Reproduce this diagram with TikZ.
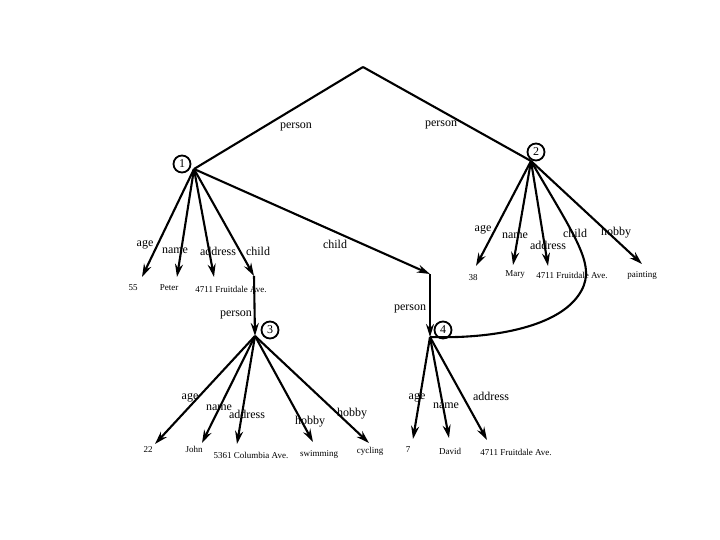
\documentclass[tikz,border=0pt]{standalone}
\usepackage{fontspec}
\setmainfont{Liberation Serif}
\usetikzlibrary{arrows.meta}
\begin{document}
\begin{tikzpicture}[x=1pt,y=-1pt,
  edge/.style={line width=2.1pt,-{Stealth[length=13pt,width=8pt]}},
  plain/.style={line width=2.1pt},
  lab/.style={font=\fontsize{12}{13}\selectfont, inner sep=0pt},
  val/.style={font=\fontsize{9}{10}\selectfont, inner sep=0pt},
  num/.style={draw,circle,line width=1.8pt,inner sep=0pt,minimum size=17pt,font=\fontsize{12}{13}\selectfont}]
\useasboundingbox[fill=white] (0,0) rectangle (720,540);
% hubs
\coordinate (root) at (363,67);
\coordinate (h1) at (194,169);
\coordinate (h2) at (531,161);
\coordinate (c1) at (254,276);
\coordinate (c2) at (430,274);
\coordinate (h3) at (255,336);
\coordinate (h4) at (430,337);
% numbered circles
\node[num] (n1) at (182,164) {1};
\node[num] (n2) at (536,152) {2};
\node[num] (n3) at (270,330) {3};
\node[num] (n4) at (443,330) {4};
% top
\draw[plain] (root) -- (h1);
\draw[plain] (root) -- (h2);
\node[lab] (lp1) at (296,127) {person};
\node[lab] (lp2) at (441,125) {person};
% hub 1
\coordinate (e1a) at (142,277);
\coordinate (e1b) at (177,277);
\coordinate (e1c) at (214,277);
\draw[edge] (h1) -- (e1a);
\draw[edge] (h1) -- (e1b);
\draw[edge] (h1) -- (e1c);
\draw[edge] (h1) -- (c1);
\draw[edge] (h1) -- (c2);
\node[lab] (l1a) at (145,245) {age};
\node[lab] (l1b) at (175,251) {name};
\node[lab] (l1c) at (218,251) {address};
\node[lab] (l1d) at (258,251) {child};
\node[lab] (l1e) at (335,244) {child};
\node[val] (v1a) at (133,288) {55};
\node[val] (v1b) at (169,288) {Peter};
\node[val] (v1c) at (231,289) {4711 Fruitdale Ave.};
% child links
\draw[edge] (c1) -- (h3);
\draw[edge] (c2) -- (h4);
\node[lab] (lp3) at (236,315) {person};
\node[lab] (lp4) at (410,309) {person};
% hub 2
\coordinate (e2a) at (476,266);
\coordinate (e2b) at (513,265);
\coordinate (e2c) at (548,266);
\coordinate (e2e) at (642,264);
\draw[edge] (h2) -- (e2a);
\draw[edge] (h2) -- (e2b);
\draw[edge] (h2) -- (e2c);
\draw[edge] (h2) -- (e2e);
\draw[plain] (h2) .. controls (580,245) and (598,268) .. (578,296) .. controls (555,328) and (490,339) .. (h4);
\node[lab] (l2a) at (483,230) {age};
\node[lab] (l2b) at (515,236) {name};
\node[lab] (l2c) at (548,245) {address};
\node[lab] (l2d) at (575,233) {child};
\node[lab] (l2e) at (616,233) {hobby};
\node[val] (v2a) at (473,278) {38};
\node[val] (v2b) at (515,275) {Mary};
\node[val] (v2c) at (572,275) {4711 Fruitdale Ave.};
\node[val] (v2e) at (642,275) {painting};
% hub 3
\coordinate (e3a) at (155,444);
\coordinate (e3b) at (202,443);
\coordinate (e3c) at (237,444);
\coordinate (e3d) at (313,442);
\coordinate (e3e) at (369,443);
\draw[edge] (h3) -- (e3a);
\draw[edge] (h3) -- (e3b);
\draw[edge] (h3) -- (e3c);
\draw[edge] (h3) -- (e3d);
\draw[edge] (h3) -- (e3e);
\node[lab] (l3a) at (190,398) {age};
\node[lab] (l3b) at (219,408) {name};
\node[lab] (l3c) at (247,414) {address};
\node[lab] (l3d) at (310,422) {hobby};
\node[lab] (l3e) at (352,414) {hobby};
\node[val] (v3a) at (148,450) {22};
\node[val] (v3b) at (194,449) {John};
\node[val] (v3c) at (251,455) {5361 Columbia Ave.};
\node[val] (v3d) at (319,454) {swimming};
\node[val] (v3e) at (370,451) {cycling};
% hub 4
\coordinate (e4a) at (413,439);
\coordinate (e4b) at (449,438);
\coordinate (e4c) at (487,440);
\draw[edge] (h4) -- (e4a);
\draw[edge] (h4) -- (e4b);
\draw[edge] (h4) -- (e4c);
\node[lab] (l4a) at (417,398) {age};
\node[lab] (l4b) at (446,406) {name};
\node[lab] (l4c) at (491,396) {address};
\node[val] (v4a) at (408,450) {7};
\node[val] (v4b) at (450,451) {David};
\node[val] (v4c) at (516,452) {4711 Fruitdale Ave.};
\end{tikzpicture}
\end{document}
